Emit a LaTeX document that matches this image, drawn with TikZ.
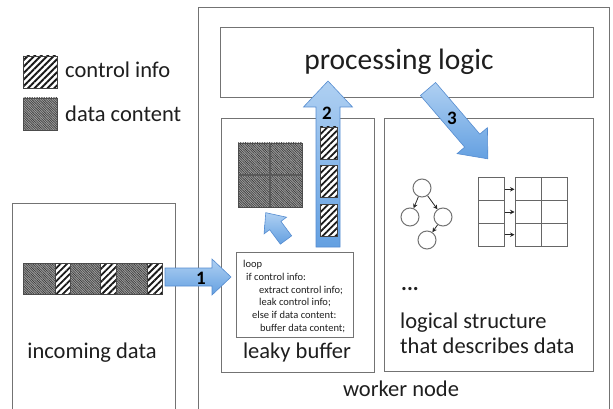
\documentclass[tikz,border=0pt]{standalone}
\usepackage{fontspec}
\setmainfont{Carlito}
\usetikzlibrary{patterns.meta,arrows.meta}
\definecolor{bluetop}{RGB}{175,208,242}
\definecolor{bluebot}{RGB}{100,160,225}
\definecolor{blueline}{RGB}{85,140,208}
\definecolor{txt}{RGB}{30,30,30}
\tikzset{
  box/.style={draw=black!55, line width=1pt},
  ctrl/.style={preaction={fill=white}, draw=black!75, line width=0.7pt,
    pattern={Lines[angle=45,distance=4.6pt,line width=1.8pt]}, pattern color=black!90},
  datac/.style={preaction={fill=black!38}, draw=black!70, line width=0.7pt,
    pattern={Lines[angle=-45,distance=1.7pt,line width=0.6pt]}, pattern color=black!78},
  blockarrow/.style={draw=blueline, line width=0.6pt, top color=bluetop, bottom color=bluebot},
  pics/blockarr/.style n args={4}{code={
    \path[blockarrow] (0,-#2) -- ({#1-#4},-#2) -- ({#1-#4},-#3) -- (#1,0)
      -- ({#1-#4},#3) -- ({#1-#4},#2) -- (0,#2) -- cycle;}},
  lbl/.style={font=\fontsize{22.5}{27}\selectfont, text=txt, inner sep=0pt},
  codet/.style={font=\fontsize{10.5}{12}\selectfont, text=txt, inner sep=0pt, anchor=base west},
  num/.style={font=\fontsize{19}{22}\selectfont\bfseries, text=black, inner sep=0pt},
  circ/.style={circle, draw=black!55, line width=1pt, minimum size=18pt, inner sep=0pt},
  garrow/.style={-{Stealth[length=4.5pt,width=4.5pt]}, draw=black!85, line width=0.8pt},
  cell/.style={draw=black!60, line width=1pt, inner sep=0pt, minimum height=22.7pt},
}
\begin{document}
\begin{tikzpicture}[x=1pt,y=-1pt]
\useasboundingbox (0,0) rectangle (613,409);
\clip (0,0) rectangle (613,409);
% outer boxes
\draw[box] (198,8) rectangle (609,420);
\draw[box] (12,203) rectangle (175,420);
\draw[box] (220,28) rectangle (593,98);
\draw[box] (221,119) rectangle (374,372);
\draw[box] (384,119) rectangle (593,371);
\draw[box, line width=0.9pt] (236,252) rectangle (353,337);
% legend
\draw[ctrl] (23,56) rectangle (57,88);
\draw[datac] (23,98) rectangle (57,130);
\node[lbl, anchor=base west] (lc) at (65,78) {control info};
\node[lbl, anchor=base west] (ld) at (65,122) {data content};
% incoming strip
\draw[datac] (23,263) rectangle (55,294);
\draw[ctrl] (55,263) rectangle (70,294);
\draw[datac] (70,263) rectangle (100,294);
\draw[ctrl] (100,263) rectangle (116,294);
\draw[datac] (116,263) rectangle (147,294);
\draw[ctrl] (147,263) rectangle (162,294);
% buffered data grid
\draw[datac] (238,143) rectangle (302,207);
\draw[black!65, line width=1.6pt] (270,143) -- (270,207) (238,175) -- (302,175);
% graph
\node[circ] (g1) at (422,188) {};
\node[circ] (g2) at (410,217) {};
\node[circ] (g3) at (443,217) {};
\node[circ] (g4) at (427,240) {};
\draw[garrow] (g1) -- (g2);
\draw[garrow] (g1) -- (g3);
\draw[garrow] (g3) -- (g4);
% table
\node[cell, minimum width=26pt] (c1) at (491,189.3) {};
\node[cell, minimum width=26pt] (c2) at (491,212) {};
\node[cell, minimum width=26pt] (c3) at (491,234.7) {};
\node[cell, minimum width=52pt] (r1) at (541,189.3) {};
\node[cell, minimum width=52pt] (r2) at (541,212) {};
\node[cell, minimum width=52pt] (r3) at (541,234.7) {};
\draw[black!60, line width=1pt] (r1.north) -- (r3.south);
\draw[garrow] (c1.east) -- (r1.west);
\draw[garrow] (c2.east) -- (r2.west);
\draw[garrow] (c3.east) -- (r3.west);
% block arrows
\pic (a1) at (165,277) {blockarr={66}{9}{18}{19}};
\pic[rotate=90] (a2) at (328,247) {blockarr={166}{12}{24.5}{26}};
\pic[rotate=-49.4] (a3) at (428,89) {blockarr={92}{10}{20}{24}};
\pic[rotate=126.5] (a4) at (286,240) {blockarr={34}{7}{14}{16}};
% control info leaking in arrow 2
\draw[ctrl] (320,127) rectangle (337,159);
\draw[ctrl] (320,165) rectangle (337,197);
\draw[ctrl] (320,204) rectangle (337,236);
% numbers
\node[num] (n1) at (201,278) {1};
\node[num] (n2) at (327,113) {2};
\node[num] (n3) at (452,118) {3};
% code
\node[codet] (k1) at (243,267.5) {loop};
\node[codet] (k2) at (246,280.3) {if control info:};
\node[codet] (k3) at (259,293.1) {extract control info;};
\node[codet] (k4) at (259,305.9) {leak control info;};
\node[codet] (k5) at (252,318.7) {else if data content:};
\node[codet] (k6) at (260,331.5) {buffer data content;};
% labels
\node[lbl, font=\fontsize{29.5}{34}\selectfont, anchor=base] (pl) at (399,70) {processing logic};
\node[lbl, anchor=base] (inc) at (92,358) {incoming data};
\node[lbl, anchor=base] (lb) at (297,358) {leaky buffer};
\node[lbl, anchor=base west, font=\fontsize{22}{27}\selectfont\bfseries] (dots) at (401,290) {...};
\node[lbl, anchor=base west] (ls1) at (400,328.5) {logical structure};
\node[lbl, anchor=base west] (ls2) at (400,353.5) {that describes data};
\node[lbl, anchor=base] (wn) at (401,396) {worker node};
\end{tikzpicture}
\end{document}
